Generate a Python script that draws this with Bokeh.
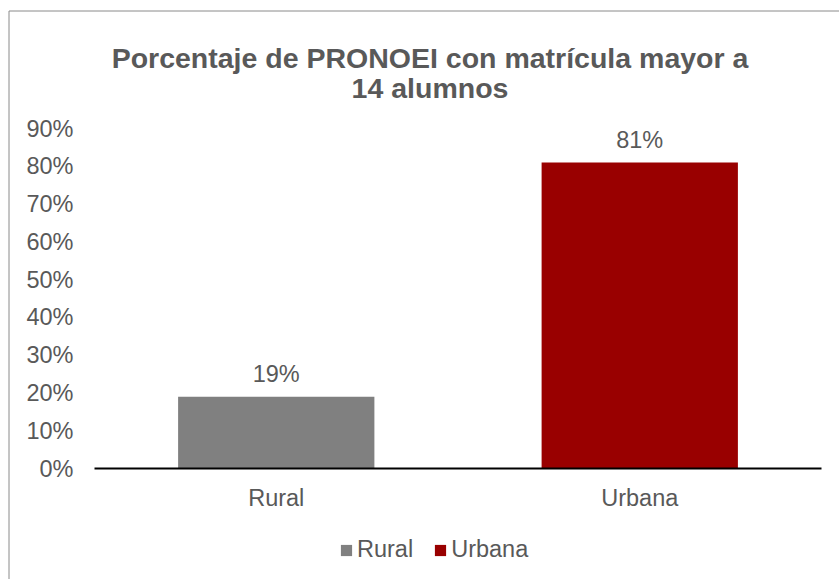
from bokeh.plotting import figure
from bokeh.models import (ColumnDataSource, Range1d, FixedTicker, NumeralTickFormatter,
                          LabelSet, Label, Legend, LegendItem, BoxAnnotation)
from bokeh.core.properties import value
from bokeh.embed import file_html
from bokeh.resources import INLINE

# ---- data ----
categories = ["Rural", "Urbana"]
values = [0.19, 0.81]
value_labels = ["19%", "81%"]
bar_colors = ["#808080", "#990000"]
y_ticks = [0.0, 0.1, 0.2, 0.3, 0.4, 0.5, 0.6, 0.7, 0.8, 0.9]
title_lines = ["Porcentaje de PRONOEI con matrícula mayor a", "14 alumnos"]

FONT = "Liberation Sans"
TXT = "#595959"

# ---- layout (pixels) ----
W, H = 839, 579
BOX_L, BOX_T = 8.5, 10.5        # chart frame (outer box) top-left line centres
PA_L, PA_R = 94, 821            # plot area left/right
Y0_PX, YTOP_PX = 468, 128       # pixel of 0% and of top tick

n = len(categories)
xpos = [i + 0.5 for i in range(n)]
px_x = (PA_R - PA_L) / n
px_y = (Y0_PX - YTOP_PX) / y_ticks[-1]

x_range = Range1d(-PA_L / px_x, n + (W - PA_R) / px_x)
y_range = Range1d(-(H - Y0_PX) / px_y, Y0_PX / px_y)

src = ColumnDataSource(dict(x=xpos, cat=categories, val=values, lab=value_labels, color=bar_colors))

p = figure(width=W, height=H, x_range=x_range, y_range=y_range,
           output_backend="svg", toolbar_location=None,
           min_border=0, min_border_left=0, min_border_top=0,
           min_border_right=0, min_border_bottom=0)
p.outline_line_color = None
p.xgrid.grid_line_color = None
p.ygrid.grid_line_color = None
p.background_fill_color = "white"
p.border_fill_color = "white"

# chart box (only top and left edges fall inside the window)
p.add_layout(BoxAnnotation(left=-(PA_L - BOX_L) / px_x, top=(Y0_PX - BOX_T) / px_y,
                           right=x_range.end + 1, bottom=y_range.start - 1,
                           fill_alpha=0, line_color="#8a8a8a", line_alpha=1.0,
                           line_width=1, level="underlay"))

r = p.vbar(x="x", top="val", width=0.54, color="color", line_color=None, source=src)

# y axis (at left edge of plot area)
ya = p.yaxis[0]
ya.fixed_location = 0
ya.bounds = (y_ticks[0], y_ticks[-1])
ya.ticker = FixedTicker(ticks=y_ticks)
ya.formatter = NumeralTickFormatter(format="0%")
ya.axis_line_color = None
ya.major_tick_line_color = None
ya.minor_tick_line_color = None
ya.major_tick_out = 0
ya.major_tick_in = 0
ya.minor_tick_out = 0
ya.major_label_standoff = 21
ya.major_label_text_font = FONT
ya.major_label_text_font_size = "23.5px"
ya.major_label_text_color = TXT

# x axis (category axis at 0)
xa = p.xaxis[0]
xa.fixed_location = 0
xa.bounds = (0, n)
xa.ticker = FixedTicker(ticks=xpos)
xa.major_label_overrides = {x: c for x, c in zip(xpos, categories)}
xa.axis_line_color = "black"
xa.axis_line_width = 2
xa.major_tick_line_color = None
xa.minor_tick_line_color = None
xa.major_tick_out = 0
xa.major_tick_in = 0
xa.minor_tick_out = 0
xa.major_label_standoff = 16
xa.major_label_text_font = FONT
xa.major_label_text_font_size = "23.5px"
xa.major_label_text_color = TXT

# value labels
p.add_layout(LabelSet(x="x", y="val", text="lab", source=src, text_align="center",
                      text_baseline="alphabetic", y_offset=15, text_font=value(FONT),
                      text_font_size=value("23.5px"), text_color=TXT))

# title (two lines, centred on chart)
title_cx = (429.5 - PA_L) / px_x
title_base = [(Y0_PX - 57.3) / px_y, (Y0_PX - 87.3) / px_y]
for txt, yy in zip(title_lines, title_base):
    p.add_layout(Label(x=title_cx, y=yy, text=txt, text_align="center",
                       text_baseline="alphabetic", text_font=FONT,
                       text_font_size="28.5px", text_font_style="bold", text_color=TXT))

# legend
legend = Legend(items=[LegendItem(label=categories[i], renderers=[r], index=i) for i in range(n)],
                orientation="horizontal", location=(339, 16),
                glyph_width=14, glyph_height=14, label_standoff=4, spacing=20,
                padding=0, margin=0, border_line_color=None, background_fill_alpha=0,
                label_text_font=FONT, label_text_font_size="23.5px", label_text_color=TXT)
p.add_layout(legend)

open("out.html", "w").write(file_html(p, INLINE))
